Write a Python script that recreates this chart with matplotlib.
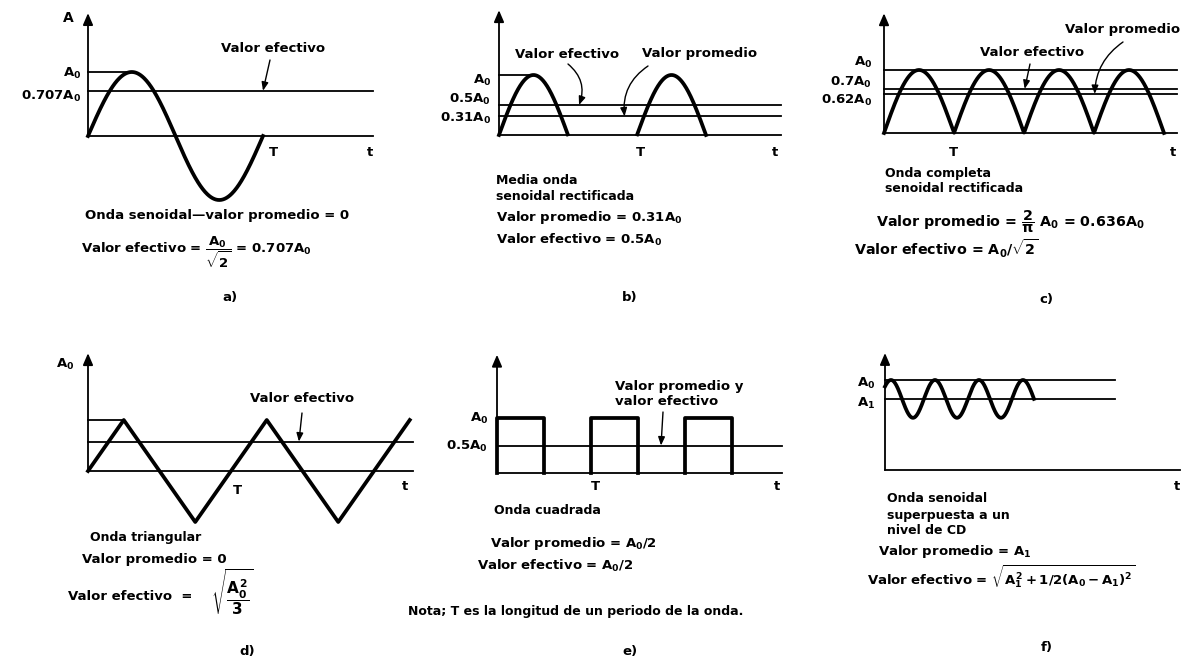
import numpy as np
import matplotlib.pyplot as plt

W, H = 1191, 658

plt.rcParams['font.family'] = 'DejaVu Sans'
plt.rcParams['font.weight'] = 'bold'
plt.rcParams['mathtext.fontset'] = 'custom'
plt.rcParams['mathtext.rm'] = 'DejaVu Sans:bold'
plt.rcParams['mathtext.it'] = 'DejaVu Sans:bold'
plt.rcParams['mathtext.bf'] = 'DejaVu Sans:bold'
plt.rcParams['mathtext.sf'] = 'DejaVu Sans:bold'

# niveles de cada onda (en unidades de A0)
sen_niveles = [1.0, 0.707]
media_niveles = [1.0, 0.5, 0.31]
completa_niveles = [1.0, 0.7, 0.62]
tri_t = [0, 0.25, 0.75, 1.25, 1.75, 2.25]
tri_A = [0, 1, -1, 1, -1, 1]
tri_ef = 0.577
cuad_inicio = [0, 1, 2]
cuad_ancho = 0.5
cuad_niveles = [1.0, 0.5]
cd_A0, cd_A1 = 1.0, 0.79
cd_fase = 0.136
cd_ciclos = 3.25

GRUESA = 2.7
FINA = 1.3

fig = plt.figure(figsize=(W / 100, H / 100), dpi=100)
fig.patch.set_facecolor('white')


def panel(x0, y0, sx, sy, top, fin):
    # ejes en unidades de T y A0, ubicados por pixeles
    ax = fig.add_axes([0, 0, 1, 1])
    ax.set_xlim(-x0 / sx, (W - x0) / sx)
    ax.set_ylim(-(H - y0) / sy, y0 / sy)
    ax.axis('off')
    ax.patch.set_alpha(0)
    ax.plot([0, fin], [0, 0], color='k', lw=FINA)
    ax.annotate('', xy=(0, top), xytext=(0, 0),
                arrowprops=dict(arrowstyle='-|>,head_length=0.7,head_width=0.3',
                                lw=FINA, color='k', shrinkA=0, shrinkB=0))
    return ax


def txt(x, y, s, ha='center', size=9.5, **kw):
    fig.text(x / W, 1 - y / H, s, ha=ha, va='center', fontsize=size, **kw)


def flecha(ax, cola, punta, rad=0.0):
    ax.annotate('', xy=punta, xytext=(cola[0], H - cola[1]), textcoords='figure pixels',
                arrowprops=dict(arrowstyle='-|>,head_length=0.5,head_width=0.2',
                                lw=1.0, color='k', shrinkA=0, shrinkB=0,
                                connectionstyle=f'arc3,rad={rad}'))


# a) onda senoidal
ax = panel(88, 136, 175, 64, 1.92, 1.63)
t = np.linspace(0, 1, 300)
ax.plot(t, np.sin(2 * np.pi * t), color='k', lw=GRUESA)
ax.plot([0, 0.25], [sen_niveles[0]] * 2, color='k', lw=FINA)
ax.plot([0, 1.63], [sen_niveles[1]] * 2, color='k', lw=FINA)
txt(68, 18, 'A', size=10)
txt(81, 73, 'A$_0$', ha='right')
txt(81, 96, '0.707A$_0$', ha='right')
txt(273, 153, 'T')
txt(370, 153, 't')
txt(273, 48, 'Valor efectivo')
flecha(ax, (270, 60), (1.0, sen_niveles[1]))
txt(217, 216, 'Onda senoidal\u2014valor promedio = 0')
txt(196, 252, r'Valor efectivo = $\dfrac{A_0}{\sqrt{2}}$ = 0.707A$_0$')
txt(230, 298, 'a)')

# b) media onda rectificada
ax = panel(499, 135, 138, 60, 2.08, 2.04)
t = np.linspace(0, 1.5, 600)
y = np.sin(2 * np.pi * t)
ax.plot(t, np.where(y >= -1e-9, y, np.nan), color='k', lw=GRUESA)
ax.plot([0, 0.25], [media_niveles[0]] * 2, color='k', lw=FINA)
for nv in media_niveles[1:]:
    ax.plot([0, 2.04], [nv, nv], color='k', lw=FINA)
txt(491, 80, 'A$_0$', ha='right')
txt(491, 99, '0.5A$_0$', ha='right')
txt(491, 118, '0.31A$_0$', ha='right')
txt(640, 153, 'T')
txt(775, 153, 't')
txt(567, 54, 'Valor efectivo')
txt(700, 54, 'Valor promedio')
flecha(ax, (568, 64), (0.58, media_niveles[1]), rad=-0.35)
flecha(ax, (648, 66), (0.91, media_niveles[2]), rad=0.3)
txt(496, 181, 'Media onda', ha='left', size=9)
txt(496, 197, 'senoidal rectificada', ha='left', size=9)
txt(496, 218, 'Valor promedio = 0.31A$_0$', ha='left')
txt(496, 240, 'Valor efectivo = 0.5A$_0$', ha='left')
txt(630, 298, 'b)')

# c) onda completa rectificada
ax = panel(884, 133, 70, 63, 1.9, 4.19)
t = np.linspace(0, 4, 800)
ax.plot(t, np.abs(np.sin(np.pi * t)), color='k', lw=GRUESA)
for nv in completa_niveles:
    ax.plot([0, 4.19], [nv, nv], color='k', lw=FINA)
txt(872, 62, 'A$_0$', ha='right')
txt(872, 82, '0.7A$_0$', ha='right')
txt(872, 100, '0.62A$_0$', ha='right')
txt(953, 152, 'T')
txt(1173, 152, 't')
txt(1032, 53, 'Valor efectivo')
txt(1123, 30, 'Valor promedio')
flecha(ax, (1030, 64), (2.01, completa_niveles[1]))
flecha(ax, (1123, 42), (3.01, completa_niveles[2]), rad=0.25)
txt(885, 173, 'Onda completa', ha='left', size=9)
txt(885, 189, 'senoidal rectificada', ha='left', size=9)
txt(876, 222, r'Valor promedio = $\dfrac{2}{\pi}$ A$_0$ = 0.636A$_0$', ha='left', size=10.3)
txt(854, 249, r'Valor efectivo = A$_0$/$\sqrt{2}$', ha='left', size=10.3)
txt(1046, 300, 'c)')

# d) onda triangular
ax = panel(88, 471, 143, 51, 2.31, 2.27)
ax.plot(tri_t, tri_A, color='k', lw=GRUESA)
ax.plot([0, 0.25], [1, 1], color='k', lw=FINA)
ax.plot([0, 2.27], [tri_ef, tri_ef], color='k', lw=FINA)
txt(74, 364, 'A$_0$', ha='right')
txt(237, 490, 'T')
txt(405, 487, 't')
txt(302, 399, 'Valor efectivo')
flecha(ax, (302, 413), (1.475, tri_ef))
txt(90, 538, 'Onda triangular', ha='left', size=9)
txt(82, 559, 'Valor promedio = 0', ha='left')
txt(68, 596, 'Valor efectivo  =', ha='left')
txt(232, 592, r'$\sqrt{\dfrac{A_0^2}{3}}$', size=11)
txt(247, 652, 'd)')

# e) onda cuadrada
ax = panel(497, 473, 94, 55, 2.15, 3.03)
for t0 in cuad_inicio:
    ax.plot([t0, t0, t0 + cuad_ancho, t0 + cuad_ancho], [0, cuad_niveles[0], cuad_niveles[0], 0],
            color='k', lw=GRUESA)
ax.plot([0, 3.03], [cuad_niveles[1]] * 2, color='k', lw=FINA)
txt(488, 418, 'A$_0$', ha='right')
txt(488, 446, '0.5A$_0$', ha='right')
txt(595, 487, 'T')
txt(777, 487, 't')
txt(615, 386, 'Valor promedio y', ha='left')
txt(615, 402, 'valor efectivo', ha='left')
flecha(ax, (663, 412), (1.745, cuad_niveles[1]))
txt(494, 510, 'Onda cuadrada', ha='left', size=9)
txt(490, 544, 'Valor promedio = A$_0$/2', ha='left')
txt(477, 566, 'Valor efectivo = A$_0$/2', ha='left')
txt(408, 612, 'Nota; T es la longitud de un periodo de la onda.', ha='left', size=9)
txt(630, 651, 'e)')

# f) senoidal sobre nivel de CD
ax = panel(885, 470, 44, 90, 1.3, 6.7)
t = np.linspace(0, cd_fase + cd_ciclos, 600)
ax.plot(t, cd_A1 + (cd_A0 - cd_A1) * np.cos(2 * np.pi * (t - cd_fase)), color='k', lw=GRUESA)
for nv in (cd_A0, cd_A1):
    ax.plot([0, 5.23], [nv, nv], color='k', lw=FINA)
txt(875, 383, 'A$_0$', ha='right')
txt(875, 403, 'A$_1$', ha='right')
txt(1177, 486, 't')
txt(887, 499, 'Onda senoidal', ha='left', size=9)
txt(887, 516, 'superpuesta a un', ha='left', size=9)
txt(887, 531, 'nivel de CD', ha='left', size=9)
txt(878, 552, 'Valor promedio = A$_1$', ha='left')
txt(867, 577, r'Valor efectivo = $\sqrt{A_1^2 + 1/2(A_0 - A_1)^2}$', ha='left')
txt(1047, 648, 'f)')

fig.savefig('out.png', dpi=100, facecolor='white')
